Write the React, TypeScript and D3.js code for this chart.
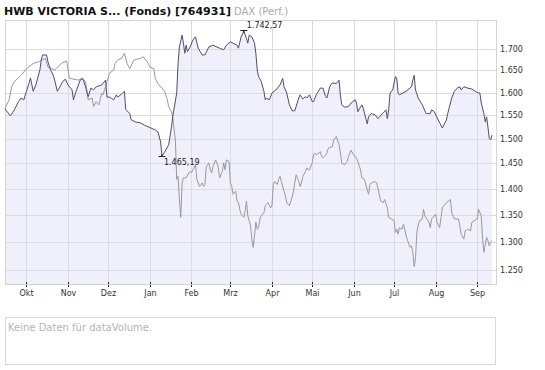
import React from 'react'
import * as d3 from 'd3'

// fund (HWB Victoria) and DAX rebased to the fund, [date, value]
const fundSeries: [string, number][] = [
  ['2007-09-15', 1564], ['2007-09-19', 1549], ['2007-09-22', 1562], ['2007-09-25', 1580], ['2007-09-27', 1588],
  ['2007-09-29', 1584], ['2007-10-01', 1603], ['2007-10-03', 1622], ['2007-10-04', 1633], ['2007-10-06', 1603],
  ['2007-10-08', 1617], ['2007-10-11', 1651], ['2007-10-12', 1674], ['2007-10-13', 1686], ['2007-10-16', 1686],
  ['2007-10-17', 1670], ['2007-10-19', 1651], ['2007-10-21', 1639], ['2007-10-22', 1628], ['2007-10-24', 1603],
  ['2007-10-26', 1613], ['2007-10-28', 1625], ['2007-10-30', 1630], ['2007-11-01', 1617], ['2007-11-04', 1606],
  ['2007-11-05', 1584], ['2007-11-07', 1603], ['2007-11-10', 1628], ['2007-11-12', 1632], ['2007-11-14', 1613],
  ['2007-11-16', 1591], ['2007-11-18', 1610], ['2007-11-20', 1606], ['2007-11-22', 1613], ['2007-11-26', 1617],
  ['2007-11-29', 1628], ['2007-11-30', 1590], ['2007-12-02', 1590], ['2007-12-05', 1584], ['2007-12-07', 1595],
  ['2007-12-08', 1590], ['2007-12-11', 1597], ['2007-12-13', 1603], ['2007-12-14', 1563], ['2007-12-17', 1554],
  ['2007-12-18', 1541], ['2007-12-21', 1536], ['2007-12-25', 1534], ['2007-12-28', 1529], ['2008-01-01', 1524],
  ['2008-01-05', 1519], ['2008-01-07', 1515], ['2008-01-09', 1494], ['2008-01-10', 1465.19], ['2008-01-12', 1473],
  ['2008-01-15', 1488], ['2008-01-17', 1523], ['2008-01-18', 1547], ['2008-01-21', 1599], ['2008-01-22', 1666],
  ['2008-01-23', 1705], ['2008-01-25', 1733], ['2008-01-26', 1714], ['2008-01-27', 1690], ['2008-01-28', 1709],
  ['2008-01-29', 1694], ['2008-01-31', 1705], ['2008-02-02', 1721], ['2008-02-04', 1729], ['2008-02-06', 1702],
  ['2008-02-09', 1686], ['2008-02-11', 1686], ['2008-02-14', 1705], ['2008-02-17', 1709], ['2008-02-22', 1702],
  ['2008-02-25', 1698], ['2008-02-27', 1709], ['2008-03-01', 1717], ['2008-03-06', 1709], ['2008-03-07', 1702],
  ['2008-03-09', 1729], ['2008-03-11', 1742.57], ['2008-03-13', 1725], ['2008-03-14', 1714], ['2008-03-15', 1733],
  ['2008-03-17', 1729], ['2008-03-19', 1714], ['2008-03-20', 1690], ['2008-03-21', 1651], ['2008-03-22', 1636],
  ['2008-03-24', 1625], ['2008-03-26', 1603], ['2008-03-27', 1584], ['2008-03-28', 1588], ['2008-03-30', 1584],
  ['2008-04-01', 1599], ['2008-04-04', 1606], ['2008-04-07', 1617], ['2008-04-09', 1632], ['2008-04-10', 1613],
  ['2008-04-12', 1599], ['2008-04-14', 1573], ['2008-04-16', 1560], ['2008-04-18', 1560], ['2008-04-21', 1588],
  ['2008-04-22', 1595], ['2008-04-24', 1586], ['2008-04-26', 1591], ['2008-04-27', 1588], ['2008-04-29', 1595],
  ['2008-05-01', 1580], ['2008-05-02', 1580], ['2008-05-04', 1595], ['2008-05-07', 1610], ['2008-05-09', 1610],
  ['2008-05-11', 1591], ['2008-05-12', 1588], ['2008-05-14', 1613], ['2008-05-16', 1622], ['2008-05-19', 1620],
  ['2008-05-21', 1628], ['2008-05-22', 1595], ['2008-05-23', 1573], ['2008-05-25', 1568], ['2008-05-28', 1569],
  ['2008-05-30', 1577], ['2008-06-02', 1584], ['2008-06-03', 1577], ['2008-06-04', 1558], ['2008-06-07', 1573],
  ['2008-06-08', 1566], ['2008-06-11', 1532], ['2008-06-12', 1547], ['2008-06-14', 1554], ['2008-06-17', 1551],
  ['2008-06-19', 1543], ['2008-06-23', 1556], ['2008-06-25', 1562], ['2008-06-26', 1543], ['2008-06-27', 1562],
  ['2008-06-28', 1599], ['2008-06-30', 1606], ['2008-07-02', 1636], ['2008-07-03', 1633], ['2008-07-04', 1599],
  ['2008-07-05', 1595], ['2008-07-10', 1603], ['2008-07-14', 1613], ['2008-07-15', 1628], ['2008-07-16', 1639],
  ['2008-07-17', 1606], ['2008-07-19', 1588], ['2008-07-22', 1573], ['2008-07-25', 1554], ['2008-07-28', 1554],
  ['2008-07-29', 1562], ['2008-07-31', 1558], ['2008-08-03', 1540], ['2008-08-06', 1523], ['2008-08-09', 1540],
  ['2008-08-10', 1554], ['2008-08-13', 1588], ['2008-08-15', 1603], ['2008-08-17', 1610], ['2008-08-19', 1613],
  ['2008-08-20', 1606], ['2008-08-22', 1613], ['2008-08-25', 1610], ['2008-08-28', 1608], ['2008-09-01', 1600],
  ['2008-09-03', 1599], ['2008-09-04', 1577], ['2008-09-06', 1554], ['2008-09-07', 1536], ['2008-09-08', 1547],
  ['2008-09-09', 1525], ['2008-09-10', 1501], ['2008-09-11', 1498], ['2008-09-12', 1508],
]

const daxSeries: [string, number][] = [
  ['2007-09-15', 1564], ['2007-09-18', 1584], ['2007-09-20', 1613], ['2007-09-22', 1625], ['2007-09-25', 1633],
  ['2007-09-27', 1639], ['2007-10-01', 1654], ['2007-10-06', 1666], ['2007-10-10', 1670], ['2007-10-15', 1678],
  ['2007-10-17', 1658], ['2007-10-22', 1651], ['2007-10-27', 1666], ['2007-10-31', 1672], ['2007-11-01', 1651],
  ['2007-11-02', 1632], ['2007-11-09', 1628], ['2007-11-11', 1632], ['2007-11-14', 1625], ['2007-11-15', 1606],
  ['2007-11-16', 1584], ['2007-11-19', 1588], ['2007-11-20', 1569], ['2007-11-22', 1580], ['2007-11-24', 1573],
  ['2007-11-26', 1599], ['2007-11-27', 1595], ['2007-11-29', 1613], ['2007-11-30', 1625], ['2007-12-02', 1644],
  ['2007-12-05', 1651], ['2007-12-06', 1666], ['2007-12-08', 1674], ['2007-12-11', 1678], ['2007-12-13', 1690],
  ['2007-12-15', 1666], ['2007-12-17', 1654], ['2007-12-20', 1674], ['2007-12-25', 1678], ['2007-12-27', 1682],
  ['2007-12-30', 1670], ['2008-01-01', 1658], ['2008-01-04', 1654], ['2008-01-05', 1632], ['2008-01-07', 1620],
  ['2008-01-10', 1610], ['2008-01-12', 1603], ['2008-01-14', 1584], ['2008-01-15', 1569], ['2008-01-17', 1558],
  ['2008-01-18', 1547], ['2008-01-20', 1498], ['2008-01-21', 1418], ['2008-01-22', 1424], ['2008-01-23', 1379],
  ['2008-01-24', 1345], ['2008-01-25', 1411], ['2008-01-26', 1421], ['2008-01-28', 1421], ['2008-01-30', 1431],
  ['2008-01-31', 1434], ['2008-02-01', 1431], ['2008-02-02', 1437], ['2008-02-04', 1447], ['2008-02-05', 1418],
  ['2008-02-06', 1411], ['2008-02-07', 1404], ['2008-02-09', 1411], ['2008-02-10', 1404], ['2008-02-11', 1408],
  ['2008-02-12', 1443], ['2008-02-14', 1451], ['2008-02-15', 1437], ['2008-02-16', 1431], ['2008-02-17', 1443],
  ['2008-02-19', 1457], ['2008-02-20', 1451], ['2008-02-21', 1441], ['2008-02-22', 1421], ['2008-02-24', 1434],
  ['2008-02-25', 1451], ['2008-02-26', 1437], ['2008-02-27', 1457], ['2008-02-29', 1454], ['2008-03-01', 1411],
  ['2008-03-02', 1404], ['2008-03-03', 1389], ['2008-03-05', 1395], ['2008-03-06', 1376], ['2008-03-07', 1373],
  ['2008-03-08', 1360], ['2008-03-09', 1351], ['2008-03-11', 1345], ['2008-03-12', 1357], ['2008-03-13', 1376],
  ['2008-03-14', 1348], ['2008-03-16', 1330], ['2008-03-17', 1305], ['2008-03-18', 1290], ['2008-03-19', 1311],
  ['2008-03-20', 1336], ['2008-03-21', 1323], ['2008-03-22', 1326], ['2008-03-23', 1342], ['2008-03-24', 1348],
  ['2008-03-26', 1354], ['2008-03-27', 1367], ['2008-03-28', 1370], ['2008-03-29', 1373], ['2008-03-31', 1363],
  ['2008-04-01', 1367], ['2008-04-02', 1408], ['2008-04-03', 1414], ['2008-04-05', 1408], ['2008-04-06', 1418],
  ['2008-04-07', 1424], ['2008-04-08', 1414], ['2008-04-10', 1395], ['2008-04-11', 1386], ['2008-04-12', 1373],
  ['2008-04-14', 1367], ['2008-04-16', 1383], ['2008-04-17', 1395], ['2008-04-18', 1411], ['2008-04-19', 1427],
  ['2008-04-20', 1421], ['2008-04-21', 1414], ['2008-04-22', 1404], ['2008-04-23', 1411], ['2008-04-24', 1424],
  ['2008-04-26', 1434], ['2008-04-27', 1441], ['2008-04-28', 1437], ['2008-04-29', 1437], ['2008-05-01', 1451],
  ['2008-05-02', 1467], ['2008-05-03', 1471], ['2008-05-04', 1467], ['2008-05-06', 1471], ['2008-05-07', 1474],
  ['2008-05-08', 1464], ['2008-05-09', 1461], ['2008-05-11', 1467], ['2008-05-12', 1471], ['2008-05-13', 1481],
  ['2008-05-14', 1482], ['2008-05-16', 1484], ['2008-05-17', 1498], ['2008-05-19', 1505], ['2008-05-21', 1488],
  ['2008-05-22', 1471], ['2008-05-23', 1451], ['2008-05-25', 1447], ['2008-05-27', 1454], ['2008-05-28', 1464],
  ['2008-05-30', 1477], ['2008-05-31', 1471], ['2008-06-01', 1467], ['2008-06-03', 1461], ['2008-06-04', 1454],
  ['2008-06-06', 1437], ['2008-06-07', 1421], ['2008-06-09', 1418], ['2008-06-11', 1398], ['2008-06-12', 1389],
  ['2008-06-13', 1408], ['2008-06-14', 1411], ['2008-06-17', 1414], ['2008-06-18', 1411], ['2008-06-19', 1401],
  ['2008-06-21', 1376], ['2008-06-23', 1373], ['2008-06-24', 1379], ['2008-06-26', 1363], ['2008-06-27', 1345],
  ['2008-06-29', 1342], ['2008-07-01', 1339], ['2008-07-02', 1317], ['2008-07-03', 1323], ['2008-07-04', 1314],
  ['2008-07-05', 1326], ['2008-07-07', 1323], ['2008-07-08', 1332], ['2008-07-09', 1323], ['2008-07-10', 1311],
  ['2008-07-12', 1296], ['2008-07-13', 1290], ['2008-07-14', 1293], ['2008-07-15', 1281], ['2008-07-16', 1256],
  ['2008-07-17', 1270], ['2008-07-18', 1317], ['2008-07-19', 1330], ['2008-07-20', 1339], ['2008-07-22', 1342],
  ['2008-07-23', 1360], ['2008-07-24', 1348], ['2008-07-27', 1336], ['2008-07-28', 1326], ['2008-07-29', 1342],
  ['2008-08-01', 1351], ['2008-08-02', 1336], ['2008-08-04', 1326], ['2008-08-06', 1363], ['2008-08-08', 1370],
  ['2008-08-12', 1379], ['2008-08-13', 1354], ['2008-08-15', 1342], ['2008-08-18', 1342], ['2008-08-19', 1330],
  ['2008-08-20', 1314], ['2008-08-22', 1305], ['2008-08-23', 1320], ['2008-08-25', 1323], ['2008-08-27', 1320],
  ['2008-08-28', 1336], ['2008-09-01', 1342], ['2008-09-02', 1360], ['2008-09-03', 1354], ['2008-09-04', 1348],
  ['2008-09-05', 1305], ['2008-09-06', 1281], ['2008-09-07', 1296], ['2008-09-08', 1308], ['2008-09-09', 1302],
  ['2008-09-10', 1293], ['2008-09-11', 1299], ['2008-09-12', 1302],
]

const yTicks = [1250, 1300, 1350, 1400, 1450, 1500, 1550, 1600, 1650, 1700]
const monthLabels = ['Okt', 'Nov', 'Dez', 'Jan', 'Feb', 'Mrz', 'Apr', 'Mai', 'Jun', 'Jul', 'Aug', 'Sep']

const FONT = '"DejaVu Sans", Verdana, sans-serif'

const de = d3.formatLocale({ decimal: ',', thousands: '.', grouping: [3], currency: ['', ' €'] })
const fmtTick = de.format(',.0f')
const fmtVal = de.format(',.2f')
const parse = d3.utcParse('%Y-%m-%d')

export default function App() {
  const left = 5, right = 496, top = 20, bottom = 284

  const x = d3.scaleUtc()
    .domain([parse('2007-09-15')!, parse('2008-09-15')!])
    .range([left, right])
  const y = d3.scaleLog().domain([1226, 1770]).range([bottom, top])

  const px = (d: [string, number]) => x(parse(d[0])!)
  const line = d3.line<[string, number]>().x(px).y(d => y(d[1]))
  const area = d3.area<[string, number]>().x(px).y0(bottom).y1(d => y(d[1]))

  const months = d3.utcMonth.range(parse('2007-10-01')!, parse('2008-09-02')!)

  const hi = d3.greatest(fundSeries, d => d[1])!
  const lo = d3.least(fundSeries, d => d[1])!
  const hx = px(hi), hy = y(hi[1])
  const lx = px(lo), ly = y(lo[1])

  return (
    <svg width={545} height={370} style={{ position: 'absolute', left: 0, top: 0, background: '#fff' }}
      fontFamily={FONT}>
      <text x={4} y={15} fontSize={11} fontWeight="bold" fill="#111">HWB VICTORIA S... (Fonds) [764931]</text>
      <text x={234} y={15} fontSize={10} fill="#aaa">DAX (Perf.)</text>

      <rect x={left + 0.5} y={top + 0.5} width={right - left} height={bottom - top} fill="#fff" />
      <path d={area(fundSeries)!} fill="#f0f0fc" />

      {months.map((m, i) => {
        const gx = Math.round(x(m)) + 0.5
        return <line key={'v' + i} x1={gx} x2={gx} y1={top} y2={bottom} stroke="#dcdcdc" />
      })}
      {yTicks.map(t => {
        const gy = Math.round(y(t)) + 0.5
        return <line key={'h' + t} x1={left} x2={right} y1={gy} y2={gy} stroke="#dcdcdc" />
      })}
      <rect x={left + 0.5} y={top + 0.5} width={right - left} height={bottom - top} fill="none" stroke="#d4d4d4" />

      <path d={line(daxSeries)!} fill="none" stroke="#999" strokeWidth={1} />
      <path d={line(fundSeries)!} fill="none" stroke="#4a4f70" strokeWidth={1} />

      {/* high / low markers */}
      <g stroke="#222" strokeWidth={1}>
        <line x1={hx - 3.5} x2={hx + 3.5} y1={Math.round(hy) - 0.5} y2={Math.round(hy) - 0.5} />
        <line x1={hx} x2={hx} y1={Math.round(hy) - 0.5} y2={Math.round(hy) + 2} />
        <line x1={lx - 3.5} x2={lx + 3.5} y1={Math.round(ly) + 0.5} y2={Math.round(ly) + 0.5} />
        <line x1={lx} x2={lx} y1={Math.round(ly) - 2} y2={Math.round(ly) + 0.5} />
      </g>
      <text x={hx + 3} y={hy - 3} fontSize={8} fill="#222">{fmtVal(hi[1])}</text>
      <text x={lx + 2} y={ly + 9} fontSize={8} fill="#222">{fmtVal(lo[1])}</text>

      {yTicks.map(t => (
        <text key={'yl' + t} x={500} y={y(t) + 3} fontSize={8} fill="#333">{fmtTick(t)}</text>
      ))}

      {months.map((m, i) => {
        const gx = Math.round(x(m)) + 0.5
        return (
          <g key={'xl' + i}>
            <line x1={gx} x2={gx} y1={282} y2={288} stroke="#222" strokeDasharray="2,1" />
            <text x={gx} y={296} fontSize={8} fill="#333" textAnchor="middle">{monthLabels[i]}</text>
          </g>
        )
      })}

      <rect x={5.5} y={317.5} width={490} height={47} fill="#fff" stroke="#d8d8d8" />
      <text x={8} y={331} fontSize={10} fill="#b4b4b4">Keine Daten für dataVolume.</text>
    </svg>
  )
}
